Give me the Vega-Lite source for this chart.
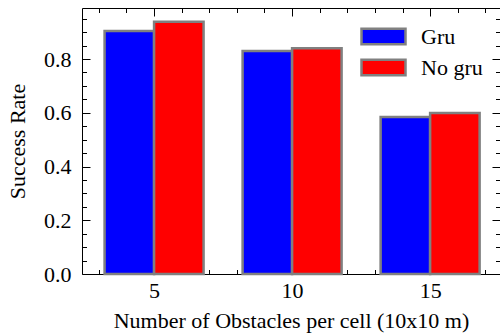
{
  "$schema": "https://vega.github.io/schema/vega-lite/v6.json",
  "width": 418,
  "height": 266,
  "autosize": {"type": "none"},
  "padding": {"left": 82, "top": 8, "right": 0, "bottom": 61},
  "background": "white",
  "config": {
    "font": "Liberation Serif",
    "view": {"stroke": "black", "strokeWidth": 1},
    "axis": {
      "grid": false,
      "domain": false,
      "labelFont": "Liberation Serif",
      "labelFontSize": 22,
      "labelColor": "black",
      "labelOverlap": false,
      "labelFlush": false,
      "titleFont": "Liberation Serif",
      "titleFontSize": 22,
      "titleFontWeight": "normal",
      "titleColor": "black",
      "tickColor": "black",
      "tickWidth": 1
    }
  },
  "data": {
    "values": [
      {"obstacles": 5, "series": "Gru", "rate": 0.904},
      {"obstacles": 10, "series": "Gru", "rate": 0.830},
      {"obstacles": 15, "series": "Gru", "rate": 0.584},
      {"obstacles": 5, "series": "No gru", "rate": 0.939},
      {"obstacles": 10, "series": "No gru", "rate": 0.840},
      {"obstacles": 15, "series": "No gru", "rate": 0.599}
    ]
  },
  "layer": [
    {
      "transform": [{"filter": "datum.series === 'Gru'"}],
      "mark": {"type": "bar", "width": 49.5, "xOffset": -24.75, "stroke": "#808080", "strokeWidth": 2.5},
      "encoding": {
        "x": {
          "field": "obstacles",
          "type": "quantitative",
          "scale": {"domain": [2.57, 17.35], "nice": false, "zero": false},
          "axis": {
            "orient": "bottom",
            "values": [3, 4, 5, 6, 7, 8, 9, 10, 11, 12, 13, 14, 15, 16, 17],
            "tickSize": {"condition": {"test": "datum.value % 5 === 0", "value": -8}, "value": -4.5},
            "labelExpr": "datum.value % 5 === 0 ? datum.label : ''",
            "labelPadding": 14,
            "title": "Number of Obstacles per cell (10x10 m)",
            "titlePadding": 6
          }
        },
        "y": {
          "field": "rate",
          "type": "quantitative",
          "scale": {"domain": [0, 0.99], "nice": false},
          "axis": {
            "orient": "left",
            "values": [0, 0.05, 0.1, 0.15, 0.2, 0.25, 0.3, 0.35, 0.4, 0.45, 0.5, 0.55, 0.6, 0.65, 0.7, 0.75, 0.8, 0.85, 0.9, 0.95],
            "tickSize": {"condition": {"test": "abs(datum.value*5 - round(datum.value*5)) < 0.001", "value": -8}, "value": -4.5},
            "labelExpr": "abs(datum.value*5 - round(datum.value*5)) < 0.001 ? format(datum.value, '.1f') : ''",
            "labelPadding": 19,
            "title": "Success Rate",
            "titlePadding": 14
          }
        },
        "color": {
          "field": "series",
          "type": "nominal",
          "scale": {"domain": ["Gru", "No gru"], "range": ["#0000ff", "#ff0000"]},
          "legend": {
            "orient": "none",
            "legendX": 289,
            "legendY": 16,
            "title": null,
            "padding": 0,
            "symbolType": "M-2,-0.7L2,-0.7L2,0.7L-2,0.7Z",
            "symbolSize": 484,
            "symbolStrokeColor": "#808080",
            "symbolStrokeWidth": 2.5,
            "symbolOpacity": 1,
            "labelFont": "Liberation Serif",
            "labelFontSize": 22,
            "labelColor": "black",
            "labelOffset": 25,
            "rowPadding": 4
          }
        }
      }
    },
    {
      "transform": [{"filter": "datum.series === 'No gru'"}],
      "mark": {"type": "bar", "width": 49.5, "xOffset": 24.75, "stroke": "#808080", "strokeWidth": 2.5},
      "encoding": {
        "x": {
          "field": "obstacles",
          "type": "quantitative",
          "scale": {"domain": [2.57, 17.35], "nice": false, "zero": false},
          "axis": {
            "orient": "top",
            "values": [3, 4, 5, 6, 7, 8, 9, 10, 11, 12, 13, 14, 15, 16, 17],
            "tickSize": {"condition": {"test": "datum.value % 5 === 0", "value": -8}, "value": -4.5},
            "labels": false,
            "title": null
          }
        },
        "y": {
          "field": "rate",
          "type": "quantitative",
          "scale": {"domain": [0, 0.99], "nice": false},
          "axis": {
            "orient": "right",
            "values": [0, 0.05, 0.1, 0.15, 0.2, 0.25, 0.3, 0.35, 0.4, 0.45, 0.5, 0.55, 0.6, 0.65, 0.7, 0.75, 0.8, 0.85, 0.9, 0.95],
            "tickSize": {"condition": {"test": "abs(datum.value*5 - round(datum.value*5)) < 0.001", "value": -8}, "value": -4.5},
            "labels": false,
            "title": null
          }
        },
        "color": {
          "field": "series",
          "type": "nominal",
          "scale": {"domain": ["Gru", "No gru"], "range": ["#0000ff", "#ff0000"]}
        }
      }
    }
  ],
  "resolve": {"axis": {"x": "independent", "y": "independent"}}
}
